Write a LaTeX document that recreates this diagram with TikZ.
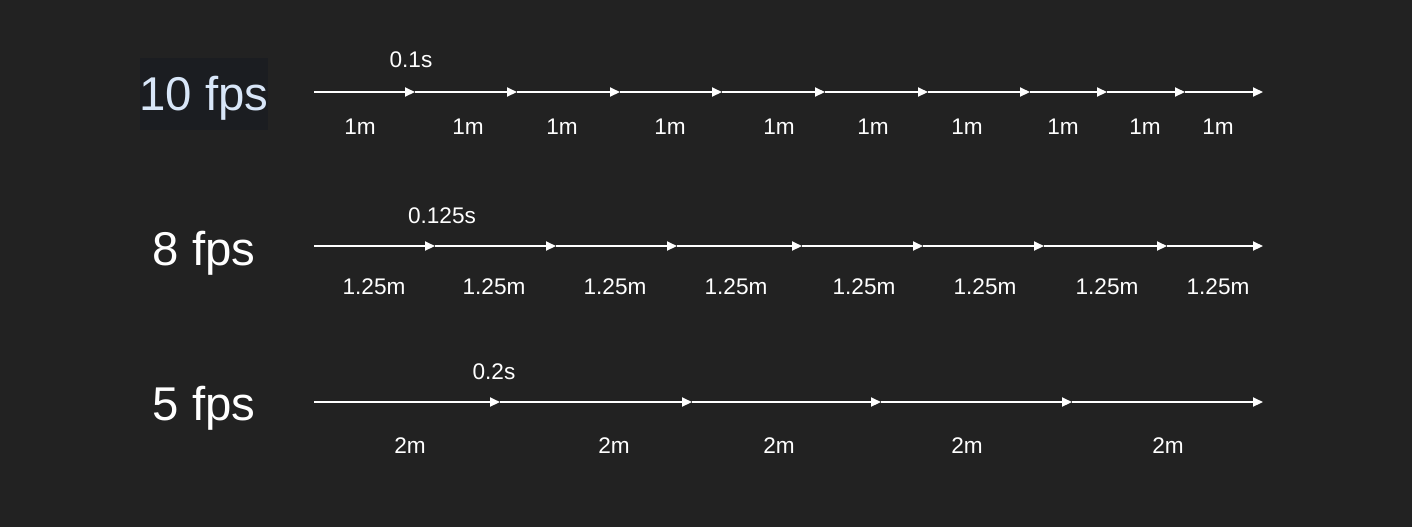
\documentclass[tikz,border=0pt]{standalone}
\usepackage{fontspec}
\setmainfont{Liberation Sans}
\usetikzlibrary{arrows.meta, positioning}
\definecolor{bgdark}{HTML}{222222}
\definecolor{boxdark}{HTML}{1B1D21}
\definecolor{fpsblue}{HTML}{D8E6F8}

\begin{document}
\begin{tikzpicture}[x=0.5pt, y=-0.5pt,
		>={Triangle[length=5pt, width=4.5pt]},
		seg/.style={->, white, line width=1pt},
		dist/.style={text=white, font=\fontsize{11.3}{13}\selectfont},
		fps/.style={text=white, font=\fontsize{23.7}{27}\selectfont}]

	\fill[bgdark] (0,0) rectangle (1412,527);
	\useasboundingbox (0,0) rectangle (1412,527);

	% 10 fps
	\fill[boxdark] (140,58) rectangle (268,130);
	\node[fps, text=fpsblue] (fpsa) at (204,98) {10 fps};
	\coordinate (a0) at (314,92);
	\foreach \x/\lx [count=\i] in {415/360,517/468,620/562,722/670,825/779,928/873,1030/967,1107/1063,1185/1145,1263/1218} {
		\coordinate (a\i) at (\x,92);
		\node[dist] (la\i) at (\lx,127) {1m};
	}
	\foreach \i [remember=\i as \j (initially 0)] in {1,...,10}
		\draw[seg] (a\j) -- (a\i);
	\node[dist] (ta) at (411,60) {0.1s};

	% 8 fps
	\node[fps] (fpsb) at (204,253) {8 fps};
	\coordinate (b0) at (314,246);
	\foreach \x/\lx [count=\i] in {435/374,556/494,677/615,802/736,923/864,1044/985,1167/1107,1263/1218} {
		\coordinate (b\i) at (\x,246);
		\node[dist] (lb\i) at (\lx,287) {1.25m};
	}
	\foreach \i [remember=\i as \j (initially 0)] in {1,...,8}
		\draw[seg] (b\j) -- (b\i);
	\node[dist] (tb) at (442,216) {0.125s};

	% 5 fps
	\node[fps] (fpsc) at (204,408) {5 fps};
	\coordinate (c0) at (314,402);
	\foreach \x/\lx [count=\i] in {500/410,692/614,881/779,1072/967,1263/1168} {
		\coordinate (c\i) at (\x,402);
		\node[dist] (lc\i) at (\lx,446) {2m};
	}
	\foreach \i [remember=\i as \j (initially 0)] in {1,...,5}
		\draw[seg] (c\j) -- (c\i);
	\node[dist] (tc) at (494,372) {0.2s};
\end{tikzpicture}
\end{document}
